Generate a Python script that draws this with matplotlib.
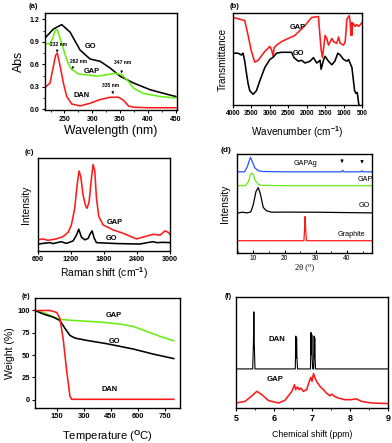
import matplotlib
matplotlib.use("Agg")
import matplotlib.pyplot as plt
from matplotlib.ticker import MultipleLocator, NullLocator

plt.rcParams['font.family'] = ['Liberation Sans', 'DejaVu Sans']
plt.rcParams['font.weight'] = 'bold'
plt.rcParams['mathtext.fontset'] = 'custom'
plt.rcParams['mathtext.rm'] = 'Liberation Sans:bold'
plt.rcParams['mathtext.it'] = 'Liberation Sans:bold'
plt.rcParams['mathtext.bf'] = 'Liberation Sans:bold'
plt.rcParams['mathtext.default'] = 'rm'

RED = '#ff1a1a'
GREEN = '#66ee11'
BLUE = '#2255ff'
BLACK = '#000000'

# ---------------- (a) UV-vis ----------------
uv_go_x = [215, 230, 245, 260, 278, 296, 314, 332, 350, 374, 404, 434, 450]
uv_go_y = [0.95, 1.07, 1.13, 1.03, 0.79, 0.67, 0.64, 0.55, 0.44, 0.35, 0.26, 0.20, 0.17]
uv_gap_x = [215, 224, 229, 233, 237, 245, 254, 260, 263, 266, 275, 290, 308, 326, 341, 353, 365, 374, 392, 422, 450]
uv_gap_y = [0.88, 0.87, 0.95, 1.05, 1.06, 0.88, 0.66, 0.56, 0.53, 0.52, 0.47, 0.46, 0.44, 0.46, 0.48, 0.46, 0.37, 0.28, 0.21, 0.17, 0.15]
uv_dan_x = [215, 224, 230, 234, 237, 241, 248, 254, 263, 278, 296, 314, 332, 347, 356, 365, 374, 400, 450]
uv_dan_y = [0.29, 0.35, 0.57, 0.72, 0.75, 0.62, 0.35, 0.17, 0.07, 0.044, 0.08, 0.13, 0.16, 0.16, 0.12, 0.044, 0.027, 0.02, 0.02]
uv_ticks = [250, 300, 350, 400, 450]
uv_yticks = [0.0, 0.3, 0.6, 0.9, 1.2]

# ---------------- (b) FTIR ----------------
ir_gap_x = [4000, 3682, 3591, 3500, 3409, 3318, 3136, 3000, 2955, 2909, 2885, 2818, 2682, 2318, 2045, 1864, 1682,
            1655, 1609, 1573, 1500, 1455, 1409, 1318, 1273, 1182, 1136, 1091, 1000, 955, 909, 845, 818, 800, 786,
            773, 750, 682, 636, 591, 500]
ir_gap_y = [98, 94.5, 78, 60, 48, 50, 60, 65.5, 62, 54.5, 64, 67, 71, 78, 89, 98, 99,
            85, 62, 53, 78, 74.5, 67, 74.5, 71, 69, 76, 69, 67, 71, 96, 100, 92, 78, 92,
            78, 92, 88, 90, 88, 92]
ir_go_x = [4000, 3864, 3773, 3727, 3682, 3636, 3591, 3545, 3455, 3364, 3273, 3136, 3000, 2909, 2818, 2682, 2409,
           2345, 2227, 2136, 2045, 1909, 1818, 1727, 1636, 1609, 1545, 1500, 1409, 1318, 1236, 1155, 1091, 1000,
           909, 864, 773, 700, 664, 627, 591, 570]
ir_go_y = [58, 58, 56, 58, 49, 36, 24, 16, 12, 16, 27, 42, 51, 53.5, 58, 59, 59,
           53, 49, 50, 47, 49, 53, 47, 50, 40, 50, 54.5, 49, 45, 49, 58, 56, 51,
           49, 51, 42, 16, 13, 14, 2, -1]
ir_ticks = [4000, 3500, 3000, 2500, 2000, 1500, 1000, 500]

# ---------------- (c) Raman ----------------
ra_gap_x = [600, 691, 782, 934, 1056, 1147, 1208, 1268, 1311, 1347, 1378, 1420, 1469, 1493, 1530, 1566, 1602,
            1633, 1663, 1706, 1785, 1967, 2149, 2392, 2575, 2696, 2818, 2909, 2970, 3000]
ra_gap_y = [12, 13, 11.5, 13, 15.5, 20, 28, 46, 71, 86, 80, 60, 48, 46, 53, 75, 93,
            86, 57, 37, 28, 22.7, 19, 13, 16, 18, 17, 21.6, 20, 18]
ra_go_x = [600, 813, 874, 1025, 1116, 1238, 1299, 1341, 1390, 1451, 1511, 1554, 1584, 1621, 1663, 2028, 2453,
           2636, 2696, 2757, 2878, 3000]
ra_go_y = [7.5, 9, 8, 10, 8.2, 10.8, 17, 23.4, 15, 12, 13.5, 19, 21.6, 14, 9, 8, 7.5,
           9.5, 10, 9, 9.3, 9]
ra_ticks = [600, 1200, 1800, 2400, 3000]

# ---------------- (d) XRD ----------------
xrd_graphite_x = [5, 26.2, 26.45, 26.6, 26.75, 27.0, 48]
xrd_graphite_y = [12.4, 12.4, 25, 36.9, 25, 12.4, 12.4]
xrd_go_x = [5, 6.5, 8, 9.2, 10.0, 10.86, 11.6, 12.25, 13.2, 14.3, 15.9, 20, 30, 40, 48]
xrd_go_y = [40.3, 41.2, 40.5, 41.5, 48.7, 62, 66, 60, 46, 42.6, 41.2, 41.3, 41.2, 40.8, 40.5]
xrd_gap_x = [5, 7.5, 8.4, 9.0, 9.5, 10.0, 10.5, 11.6, 12.7, 20, 48]
xrd_gap_y = [68, 68, 72, 78, 81, 79, 73.8, 69.5, 68.3, 68, 68]
xrd_gapag_x = [5, 7.2, 8.1, 8.7, 9.1, 9.6, 10.5, 11.6, 13, 20, 38.2, 38.6, 39.0, 44.4, 44.8, 45.2, 48]
xrd_gapag_y = [82, 82, 87, 93, 96.6, 93, 86, 83.2, 82.3, 82, 82, 83.5, 82, 82, 83, 82, 82]
xrd_ticks = [10, 20, 30, 40]

# ---------------- (e) TGA ----------------
tga_gap_x = [30, 76, 131, 168, 243, 391, 502, 576, 650, 724, 800]
tga_gap_y = [100, 97.8, 93, 90, 88.8, 87, 84.7, 82, 76.5, 71, 66]
tga_go_x = [30, 76, 131, 168, 196, 224, 252, 317, 428, 576, 687, 800]
tga_go_y = [100, 96, 92.5, 88.8, 80, 72, 69, 66.4, 62.7, 56.7, 51, 46]
tga_dan_x = [30, 113, 150, 168, 187, 205, 224, 233, 300, 800]
tga_dan_y = [100, 100, 97.8, 91.4, 67, 33.6, 3.7, 0.3, 0.3, 0.3]
tga_xticks = [150, 300, 450, 600, 750]
tga_yticks = [0, 25, 50, 75, 100]

# ---------------- (f) 1H NMR ----------------
nmr_dan_x = [5.0, 5.44, 5.46, 5.47, 5.48, 5.50, 6.56, 6.575, 6.585, 6.595, 6.605, 6.62,
             6.96, 6.975, 6.985, 6.995, 7.005, 7.02, 7.045, 7.058, 7.065, 7.072, 7.08, 7.095, 9.0]
nmr_dan_y = [35.2, 35.2, 60, 86.6, 60, 35.2, 35.2, 64.8, 45, 63, 45, 35.2,
             35.2, 68, 48, 66, 45, 35.2, 35.2, 64.8, 45, 63, 45, 35.2, 35.2]
nmr_gap_x = [5.0, 5.24, 5.42, 5.55, 5.68, 5.86, 6.12, 6.29, 6.38, 6.47, 6.54, 6.57, 6.62, 6.66, 6.71, 6.77,
             6.86, 6.9, 6.95, 6.97, 7.0, 7.04, 7.08, 7.12, 7.21, 7.3, 7.38, 7.47, 7.52, 7.59, 7.69, 7.86,
             8.04, 8.1, 8.17, 8.3, 8.56, 9.0]
nmr_gap_y = [4.5, 6, 11, 15, 12, 6.6, 4.5, 7, 11, 15, 21, 16.5, 19, 16.5, 18, 15,
             16.5, 21, 26, 27.5, 24, 31, 27, 24, 19.5, 16.5, 13.5, 11, 12.5, 10.5, 9, 7.5,
             7.5, 8, 8.2, 6, 4.5, 4]
nmr_ticks = [5, 6, 7, 8, 9]

fig = plt.figure(figsize=(3.92, 4.43), dpi=100)

def frame(ax, lw=1.0):
    for s in ax.spines.values():
        s.set_linewidth(lw)

LW = 1.15

# (a)
ax = fig.add_axes([0.1148, 0.7517, 0.3367, 0.219])
ax.plot(uv_go_x, uv_go_y, color=BLACK, lw=LW)
ax.plot(uv_gap_x, uv_gap_y, color=GREEN, lw=LW)
ax.plot(uv_dan_x, uv_dan_y, color=RED, lw=LW)
ax.set_xlim(215, 452)
ax.set_ylim(-0.01, 1.285)
ax.set_xticks(uv_ticks)
ax.set_yticks(uv_yticks)
ax.set_yticklabels(['%.1f' % v for v in uv_yticks])
ax.xaxis.set_minor_locator(MultipleLocator(25))
ax.yaxis.set_minor_locator(MultipleLocator(0.15))
ax.tick_params(labelsize=5, length=2.5, width=0.8, pad=1.5)
ax.tick_params(which='minor', length=1.5, width=0.6)
ax.set_xlabel('Wavelength (nm)', fontsize=8.8, labelpad=2)
ax.set_ylabel('Abs', fontsize=8.8, labelpad=3)
frame(ax)
ax.text(297, 0.84, 'GO', fontsize=5.4, ha='center', va='center')
ax.text(299, 0.51, 'GAP', fontsize=5.4, ha='center', va='center')
ax.text(280, 0.19, 'DAN', fontsize=5.4, ha='center', va='center')
ann = dict(arrowprops=dict(arrowstyle='-|>', lw=0.5, color='black', mutation_scale=3),
           fontsize=3.6, ha='center', va='center')
ax.annotate('232 nm', xy=(236, 0.76), xytext=(240, 0.86), **ann)
ax.annotate('262 nm', xy=(263, 0.54), xytext=(275, 0.64), **ann)
ax.annotate('347 nm', xy=(352, 0.48), xytext=(355, 0.62), **ann)
ax.annotate('335 nm', xy=(339, 0.17), xytext=(333, 0.32), **ann)
fig.text(29 / 392, 1 - 7 / 443, '(a)', fontsize=5.5, va='center')

# (b)
ax = fig.add_axes([0.5944, 0.763, 0.329, 0.2077])
ax.plot(ir_gap_x, ir_gap_y, color=RED, lw=LW)
ax.plot(ir_go_x, ir_go_y, color=BLACK, lw=LW)
ax.set_xlim(4000, 500)
ax.set_ylim(0, 103)
ax.set_xticks(ir_ticks)
ax.yaxis.set_major_locator(NullLocator())
ax.tick_params(labelsize=4.7, length=2, width=0.8, pad=1.5)
ax.set_xlabel('Wavenumber (cm$^{-1}$)', fontsize=7.2, labelpad=5)
ax.set_ylabel('Transmittance', fontsize=7.2, labelpad=4)
frame(ax)
ax.text(2245, 87, 'GAP', fontsize=5.4, ha='center', va='center')
ax.text(2227, 58, 'GO', fontsize=5.4, ha='center', va='center')
fig.text(230 / 392, 1 - 6 / 443, '(b)', fontsize=5.5, va='center')

# (c)
ax = fig.add_axes([0.0969, 0.4334, 0.3367, 0.21])
ax.plot(ra_gap_x, ra_gap_y, color=RED, lw=LW)
ax.plot(ra_go_x, ra_go_y, color=BLACK, lw=LW)
ax.set_xlim(600, 3000)
ax.set_ylim(0, 100)
ax.set_xticks(ra_ticks)
ax.yaxis.set_major_locator(NullLocator())
ax.tick_params(labelsize=5.2, length=2, width=0.8, pad=1.5)
ax.set_xlabel('Raman shift (cm$^{-1}$)', fontsize=7.4, labelpad=2)
ax.set_ylabel('Intensity', fontsize=7.4, labelpad=5)
frame(ax)
ax.text(1997, 30.6, 'GAP', fontsize=5.4, ha='center', va='center')
ax.text(1937, 13.7, 'GO', fontsize=5.4, ha='center', va='center')
fig.text(25 / 392, 1 - 152 / 443, '(c)', fontsize=5.5, va='center')

# (d)
ax = fig.add_axes([0.6046, 0.4289, 0.3444, 0.2235])
ax.plot(xrd_graphite_x, xrd_graphite_y, color=RED, lw=0.9)
ax.plot(xrd_go_x, xrd_go_y, color=BLACK, lw=0.9)
ax.plot(xrd_gap_x, xrd_gap_y, color=GREEN, lw=0.9)
ax.plot(xrd_gapag_x, xrd_gapag_y, color=BLUE, lw=0.9)
ax.set_xlim(4.8, 48)
ax.set_ylim(0, 100)
ax.set_xticks(xrd_ticks)
ax.set_xticklabels([str(t) for t in xrd_ticks], fontweight='normal')
ax.xaxis.set_minor_locator(MultipleLocator(5))
ax.yaxis.set_major_locator(NullLocator())
ax.tick_params(labelsize=4.8, length=2, width=0.8, pad=1.5, direction='in')
ax.tick_params(which='minor', length=1.2, width=0.6, direction='in')
ax.set_xlabel('2θ (⁰)', fontsize=6, fontweight='normal', labelpad=1,
              family=['Liberation Serif', 'DejaVu Serif'])
ax.set_ylabel('Intensity', fontsize=7.4, labelpad=5)
frame(ax)
ax.text(26.6, 90, 'GAPAg', fontsize=5.2, fontweight='normal', ha='center', va='center')
ax.text(45.9, 74.5, 'GAP', fontsize=5.2, fontweight='normal', ha='center', va='center')
ax.text(45.4, 48, 'GO', fontsize=5.2, fontweight='normal', ha='center', va='center')
ax.text(41.4, 19, 'Graphite', fontsize=5.2, fontweight='normal', ha='center', va='center')
arr = dict(arrowstyle='-|>', lw=0.6, color='black', mutation_scale=4)
ax.annotate('', xy=(38.4, 88), xytext=(38.4, 97.5), arrowprops=arr)
ax.annotate('', xy=(44.8, 87.5), xytext=(44.8, 96.5), arrowprops=arr)
fig.text(221 / 392, 1 - 151 / 443, '(d)', fontsize=6, va='center')

# (e)
ax = fig.add_axes([0.0893, 0.079, 0.3699, 0.2483])
ax.plot(tga_gap_x, tga_gap_y, color=GREEN, lw=LW)
ax.plot(tga_go_x, tga_go_y, color=BLACK, lw=LW)
ax.plot(tga_dan_x, tga_dan_y, color=RED, lw=LW)
ax.set_xlim(30, 835)
ax.set_ylim(-9.5, 114)
ax.set_xticks(tga_xticks)
ax.set_yticks(tga_yticks)
ax.tick_params(labelsize=5.4, length=2, width=0.8, pad=1.5)
ax.set_xlabel('Temperature ($^{O}$C)', fontsize=8.1, labelpad=6)
ax.set_ylabel('Weight (%)', fontsize=7.6, labelpad=2)
frame(ax)
ax.text(465, 94, 'GAP', fontsize=5.4, ha='center', va='center')
ax.text(474, 65, 'GO', fontsize=5.4, ha='center', va='center')
ax.text(446, 11, 'DAN', fontsize=5.4, ha='center', va='center')
fig.text(22 / 392, 1 - 297 / 443, '(e)', fontsize=5, va='center')

# (f)
ax = fig.add_axes([0.602, 0.079, 0.3878, 0.2506])
ax.plot(nmr_dan_x, nmr_dan_y, color=BLACK, lw=0.8)
ax.plot(nmr_gap_x, nmr_gap_y, color=RED, lw=LW)
ax.set_xlim(5, 9)
ax.set_ylim(0, 100)
ax.set_xticks(nmr_ticks)
ax.xaxis.set_minor_locator(MultipleLocator(0.5))
ax.yaxis.set_major_locator(NullLocator())
ax.tick_params(labelsize=6.5, length=2.5, width=0.8, pad=1.5)
ax.tick_params(which='minor', length=1.5, width=0.6)
ax.set_xlabel('Chemical shift (ppm)', fontsize=6.3, labelpad=5)
frame(ax)
ax.text(6.07, 61.8, 'DAN', fontsize=5.6, ha='center', va='center')
ax.text(6.03, 25.4, 'GAP', fontsize=5.6, ha='center', va='center')
fig.text(225 / 392, 1 - 296 / 443, '(f)', fontsize=5, va='center')

fig.savefig('out.png', dpi=100)
